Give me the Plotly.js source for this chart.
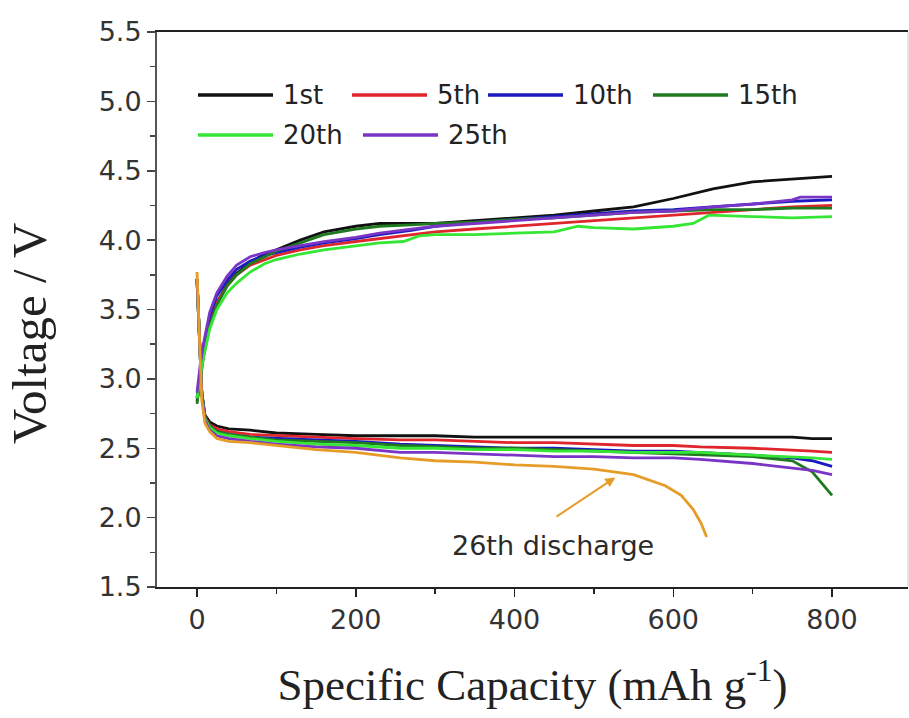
<!DOCTYPE html>
<html>
<head>
<meta charset="utf-8">
<script src="https://cdn.plot.ly/plotly-3.0.1.min.js"></script>
<style>html,body{margin:0;padding:0;background:#fff;}#chart{width:909px;height:718px;}</style>
</head>
<body>
<div id="chart"></div>
<script>
// ---- data ----
const cycleNames = ['1st', '5th', '10th', '15th', '20th', '25th'];
const cycleColors = ['#111111', '#e0262d', '#1a1ac0', '#1f7a1f', '#35e635', '#7a34c6'];

// charge curves (upper branch)
const chargeX = [0, 4, 8, 16, 25, 38, 50, 67, 85, 100, 130, 160, 200, 230, 270, 300, 350, 400, 450, 500, 550, 600, 650, 700, 750, 800];
const charge1st  = [2.84, 3.00, 3.18, 3.40, 3.55, 3.68, 3.76, 3.84, 3.90, 3.93, 4.00, 4.06, 4.10, 4.12, 4.12, 4.12, 4.14, 4.16, 4.18, 4.21, 4.24, 4.30, 4.37, 4.42, 4.44, 4.46];
const charge5th  = [2.86, 3.02, 3.18, 3.40, 3.55, 3.67, 3.75, 3.82, 3.86, 3.89, 3.93, 3.96, 3.99, 4.01, 4.04, 4.06, 4.08, 4.10, 4.12, 4.14, 4.16, 4.18, 4.20, 4.22, 4.24, 4.25];
const charge10th = [2.86, 3.05, 3.22, 3.45, 3.60, 3.71, 3.79, 3.85, 3.89, 3.91, 3.95, 3.98, 4.01, 4.04, 4.07, 4.10, 4.13, 4.15, 4.17, 4.19, 4.21, 4.22, 4.24, 4.26, 4.28, 4.29];
const charge15th = [2.82, 3.00, 3.15, 3.38, 3.53, 3.67, 3.75, 3.83, 3.88, 3.92, 3.98, 4.04, 4.08, 4.10, 4.11, 4.12, 4.13, 4.15, 4.16, 4.18, 4.20, 4.21, 4.22, 4.22, 4.23, 4.23];
const charge20thX = [0, 4, 8, 16, 25, 38, 50, 67, 85, 100, 130, 160, 200, 230, 260, 280, 300, 350, 400, 450, 480, 500, 550, 600, 625, 645, 700, 750, 800];
const charge20th = [2.86, 3.00, 3.15, 3.36, 3.50, 3.62, 3.69, 3.77, 3.83, 3.86, 3.90, 3.93, 3.96, 3.98, 3.99, 4.03, 4.04, 4.04, 4.05, 4.06, 4.10, 4.09, 4.08, 4.10, 4.12, 4.18, 4.17, 4.16, 4.17];
const charge25thX = [0, 4, 8, 16, 25, 38, 50, 67, 85, 100, 130, 160, 200, 230, 270, 300, 350, 400, 450, 500, 550, 600, 650, 700, 750, 760, 800];
const charge25th = [2.90, 3.10, 3.25, 3.48, 3.62, 3.74, 3.82, 3.88, 3.91, 3.93, 3.96, 3.99, 4.02, 4.05, 4.08, 4.10, 4.12, 4.14, 4.16, 4.18, 4.20, 4.21, 4.24, 4.26, 4.29, 4.31, 4.31];

// discharge curves (lower branch)
const dischargeX = [0, 3, 6, 10, 16, 25, 40, 67, 100, 150, 200, 256, 300, 350, 400, 450, 500, 550, 600, 634, 700, 750, 775, 800];
const discharge1st  = [3.72, 3.30, 2.90, 2.74, 2.69, 2.66, 2.64, 2.63, 2.61, 2.60, 2.59, 2.59, 2.59, 2.58, 2.58, 2.58, 2.58, 2.58, 2.58, 2.58, 2.58, 2.58, 2.57, 2.57];
const discharge5th  = [3.72, 3.30, 2.90, 2.73, 2.67, 2.64, 2.62, 2.60, 2.59, 2.58, 2.57, 2.56, 2.56, 2.55, 2.54, 2.54, 2.53, 2.52, 2.52, 2.51, 2.50, 2.49, 2.48, 2.47];
const discharge10th = [3.72, 3.30, 2.90, 2.72, 2.66, 2.62, 2.60, 2.58, 2.57, 2.56, 2.55, 2.53, 2.52, 2.51, 2.50, 2.50, 2.49, 2.48, 2.48, 2.47, 2.45, 2.43, 2.41, 2.37];
const discharge15th = [3.72, 3.30, 2.90, 2.72, 2.66, 2.62, 2.60, 2.58, 2.56, 2.55, 2.54, 2.52, 2.51, 2.50, 2.50, 2.49, 2.48, 2.47, 2.46, 2.45, 2.44, 2.41, 2.33, 2.16];
const discharge20th = [3.72, 3.30, 2.90, 2.71, 2.65, 2.61, 2.59, 2.57, 2.55, 2.53, 2.52, 2.50, 2.50, 2.49, 2.49, 2.48, 2.48, 2.47, 2.47, 2.47, 2.45, 2.44, 2.43, 2.42];
const discharge25th = [3.72, 3.30, 2.90, 2.70, 2.63, 2.59, 2.57, 2.55, 2.53, 2.51, 2.50, 2.47, 2.47, 2.46, 2.45, 2.44, 2.44, 2.43, 2.43, 2.42, 2.39, 2.36, 2.34, 2.31];

// 26th discharge
const discharge26X = [0, 3, 6, 10, 16, 25, 40, 67, 100, 150, 200, 256, 300, 350, 400, 450, 500, 550, 590, 610, 625, 635, 642];
const discharge26  = [3.77, 3.30, 2.85, 2.68, 2.62, 2.57, 2.55, 2.54, 2.52, 2.49, 2.47, 2.43, 2.41, 2.40, 2.38, 2.37, 2.35, 2.31, 2.23, 2.16, 2.06, 1.96, 1.86];
const discharge26Color = '#e59d28';
const discharge26Label = '26th discharge';
const arrowHead = [527, 2.29];   // point on the 26th curve
const arrowTail = [451, 2.00];

const xTitle = 'Specific Capacity (mAh g<sup>-1</sup>)';
const yTitle = 'Voltage / V';

// ---- traces ----
const chargeXs = [chargeX, chargeX, chargeX, chargeX, charge20thX, charge25thX];
const chargeYs = [charge1st, charge5th, charge10th, charge15th, charge20th, charge25th];
const dischargeYs = [discharge1st, discharge5th, discharge10th, discharge15th, discharge20th, discharge25th];

const traces = [];
cycleNames.forEach((n, i) => {
  traces.push({x: dischargeX, y: dischargeYs[i], mode: 'lines', name: n + ' discharge',
    line: {color: cycleColors[i], width: 2.8}, showlegend: false, hoverinfo: 'skip'});
  traces.push({x: chargeXs[i], y: chargeYs[i], mode: 'lines', name: n + ' charge',
    line: {color: cycleColors[i], width: 2.8}, showlegend: false, hoverinfo: 'skip'});
});
traces.push({x: discharge26X, y: discharge26, mode: 'lines', name: discharge26Label,
  line: {color: discharge26Color, width: 2.8}, showlegend: false, hoverinfo: 'skip'});

// ---- layout ----
const W = 909, H = 718;
const M = {l: 157, r: 1, t: 32, b: 131};
const pw = W - M.l - M.r, ph = H - M.t - M.b;
const px2paperX = p => (p - M.l) / pw;
const px2paperY = p => (H - M.b - p) / ph;

// hand-made legend (long line samples like the reference)
const legendLineStart = [198, 352, 488, 653, 198, 363];
const legendRowY = [95, 95, 95, 95, 135, 135];
const legendLineLen = 75;
const shapes = [];
const annotations = [];
cycleNames.forEach((n, i) => {
  shapes.push({type: 'line', xref: 'paper', yref: 'paper',
    x0: px2paperX(legendLineStart[i]), x1: px2paperX(legendLineStart[i] + legendLineLen),
    y0: px2paperY(legendRowY[i]), y1: px2paperY(legendRowY[i]),
    line: {color: cycleColors[i], width: 3.5}});
  annotations.push({xref: 'paper', yref: 'paper', x: px2paperX(legendLineStart[i] + legendLineLen + 8),
    y: px2paperY(legendRowY[i]), xanchor: 'left', yanchor: 'middle', showarrow: false, text: n,
    font: {family: 'DejaVu Sans', size: 26, color: '#222'}});
});
// right frame line (light)
shapes.push({type: 'line', xref: 'paper', yref: 'paper', x0: 1, x1: 1, y0: 0, y1: 1,
  line: {color: '#c8c8c8', width: 1}});

annotations.push({x: arrowHead[0], y: arrowHead[1], ax: arrowTail[0], ay: arrowTail[1],
  xref: 'x', yref: 'y', axref: 'x', ayref: 'y', text: '', showarrow: true,
  arrowhead: 2, arrowsize: 1, arrowwidth: 2, arrowcolor: discharge26Color});
annotations.push({x: 448, y: 1.80, xref: 'x', yref: 'y', text: discharge26Label, showarrow: false,
  xanchor: 'center', yanchor: 'middle', font: {family: 'DejaVu Sans', size: 27, color: '#2a2a2a'}});
// y-axis title (placed as in the reference, slightly below the axis centre)
annotations.push({xref: 'paper', yref: 'paper', x: px2paperX(29), y: px2paperY(334),
  xanchor: 'center', yanchor: 'middle', textangle: -90, showarrow: false, text: yTitle,
  font: {family: 'Liberation Serif', size: 49, color: '#222'}});

const layout = {
  width: W, height: H, margin: M,
  paper_bgcolor: '#fff', plot_bgcolor: '#fff',
  showlegend: false,
  xaxis: {
    range: [-50.4, 895.7], tick0: 0, dtick: 200, ticks: 'outside', ticklen: 8, tickwidth: 1.5,
    tickcolor: '#222', showline: true, linecolor: '#222', linewidth: 2, mirror: true,
    showgrid: false, zeroline: false,
    minor: {dtick: 100, tick0: 0, ticks: 'outside', ticklen: 5, tickwidth: 1.5, tickcolor: '#222', showgrid: false},
    tickfont: {family: 'DejaVu Sans', size: 27, color: '#333'},
    title: {text: xTitle, font: {family: 'Liberation Serif', size: 45, color: '#222'}, standoff: 34}
  },
  yaxis: {
    range: [1.5, 5.5], tick0: 1.5, dtick: 0.5, tickformat: '.1f', ticks: 'outside', ticklen: 8, tickwidth: 1.5,
    tickcolor: '#444', showline: true, linecolor: '#555', linewidth: 2, mirror: false,
    showgrid: false, zeroline: false,
    minor: {dtick: 0.25, tick0: 1.5, ticks: 'outside', ticklen: 5, tickwidth: 1.5, tickcolor: '#444', showgrid: false},
    tickfont: {family: 'DejaVu Sans', size: 27, color: '#333'}
  },
  shapes: shapes,
  annotations: annotations
};

Plotly.newPlot('chart', traces, layout, {displayModeBar: false, staticPlot: true});
</script>
</body>
</html>
